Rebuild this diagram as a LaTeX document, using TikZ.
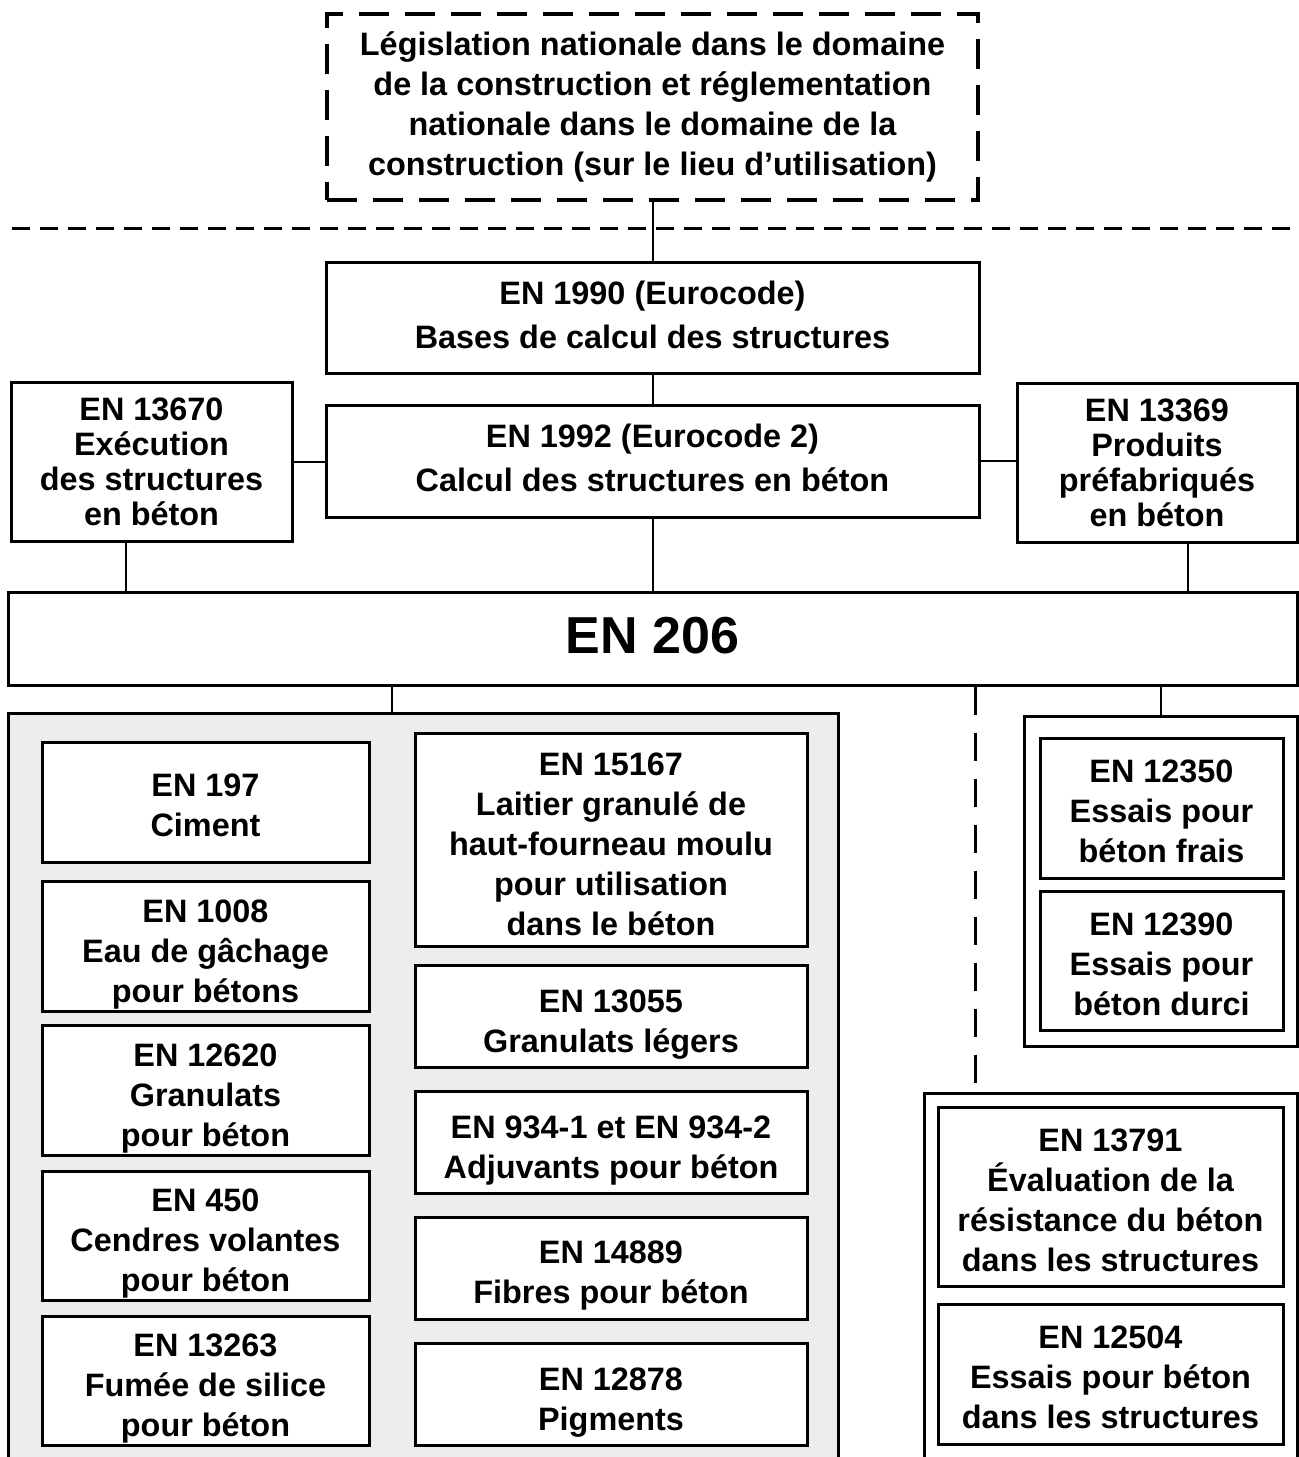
\documentclass[tikz,border=0pt]{standalone}
\usepackage{fontspec}
\setmainfont{Liberation Sans}
\newcommand\topgap[1]{\rule{0pt}{#1}}
\tikzset{
  enbox/.style={draw, line width=1.5pt, fill=white, align=center, inner sep=0pt},
  sz/.style n args={2}{minimum width=#1*0.5pt, minimum height=#2*0.5pt},
  high/.style={execute at end node={\rule[-#1]{0pt}{#1}}},
  grpbox/.style={draw, line width=1.5pt, inner sep=0pt},
  tight/.style={font=\fontsize{16.2}{17.5}\selectfont\bfseries},
  link/.style={line width=1pt},
  dlink/.style={line width=1.5pt, dash pattern=on 14pt off 9pt}}
\begin{document}
\begin{tikzpicture}[x=0.5pt, y=-0.5pt, font=\fontsize{16.2}{20}\selectfont\bfseries]
\useasboundingbox (0,0) rectangle (1299,1457);
\clip (0,0) rectangle (1299,1457);
% ---- national level
\node[enbox, sz={651}{186}, line width=2pt, dash pattern=on 15pt off 8pt] (legis) at (652.5,107)
  {Législation nationale dans le domaine\\ de la construction et réglementation\\ nationale dans le domaine de la\\ construction (sur le lieu d’utilisation)};
\draw[line width=1.5pt, dash pattern=on 9pt off 5pt] (12,228) -- (1299,228);
% ---- Eurocodes and execution / precast
\node[enbox, high=3pt, sz={653}{111}] (en1990) at (652.5,317.5) {EN 1990 (Eurocode)\\[2pt] Bases de calcul des structures};
\node[enbox, high=3pt, sz={653}{112}] (en1992) at (652.5,461) {EN 1992 (Eurocode 2)\\[2pt] Calcul des structures en béton};
\node[enbox, tight, sz={281}{159}] (en13670) at (151.5,461.5) {EN 13670\\ Exécution\\ des structures\\ en béton};
\node[enbox, tight, sz={280}{159}] (en13369) at (1157,462.5) {EN 13369\\ Produits\\ préfabriqués\\ en béton};
\node[enbox, high=3pt, sz={1289}{93}, font=\fontsize{26}{30}\selectfont\bfseries] (en206) at (652.5,638.5) {EN 206};
\draw[link] (legis.south) -- (en1990.north);
\draw[link] (en1990.south) -- (en1992.north);
\draw[link] (en13670.east) -- (en13670.east -| en1992.west);
\draw[link] (en1992.east) -- (en1992.east -| en13369.west);
\draw[link] (en1992.south) -- (en206.north);
\draw[link] (en13670.south -| 126,0) -- (en206.north -| 126,0);
\draw[link] (en13369.south -| 1188,0) -- (en206.north -| 1188,0);
% ---- constituents (grey group)
\node[grpbox, fill=black!7, sz={830}{757}] (constit) at (423,1091.5) {};
\node[enbox, sz={327}{120}] (en197) at (205.5,802) {\topgap{15pt}EN 197\\ Ciment};
\node[enbox, sz={327}{130}] (en1008) at (205.5,946) {\topgap{19.5pt}EN 1008\\ Eau de gâchage\\ pour bétons};
\node[enbox, sz={327}{130}] (en12620) at (205.5,1090) {\topgap{19.5pt}EN 12620\\ Granulats\\ pour béton};
\node[enbox, sz={327}{129}] (en450) at (205.5,1235.5) {\topgap{19pt}EN 450\\ Cendres volantes\\ pour béton};
\node[enbox, sz={327}{129}] (en13263) at (205.5,1380.5) {\topgap{19pt}EN 13263\\ Fumée de silice\\ pour béton};
\node[enbox, sz={392}{213}] (en15167) at (611,839.5) {\topgap{16.5pt}EN 15167\\ Laitier granulé de\\ haut-fourneau moulu\\ pour utilisation\\ dans le béton};
\node[enbox, sz={392}{102}] (en13055) at (611,1016) {\topgap{19.5pt}EN 13055\\ Granulats légers};
\node[enbox, sz={392}{102}] (en934) at (611,1142) {\topgap{19.5pt}EN 934-1 et EN 934-2\\ Adjuvants pour béton};
\node[enbox, sz={392}{102}] (en14889) at (611,1268) {\topgap{19pt}EN 14889\\ Fibres pour béton};
\node[enbox, sz={392}{102}] (en12878) at (611,1394) {\topgap{20pt}EN 12878\\ Pigments};
\draw[link] (en206.south -| 392,0) -- (constit.north -| 392,0);
% ---- tests on concrete
\node[grpbox, sz={273}{330}] (essais) at (1160.5,881) {};
\node[enbox, sz={243}{140}] (en12350) at (1161.5,808) {\topgap{15pt}EN 12350\\ Essais pour\\ béton frais};
\node[enbox, sz={243}{139}] (en12390) at (1161.5,960.5) {\topgap{15.5pt}EN 12390\\ Essais pour\\ béton durci};
\draw[link] (en206.south -| essais.north) -- (essais.north);
% ---- in-situ assessment
\node[grpbox, sz={373}{377}] (insitu) at (1110.5,1281.5) {};
\node[enbox, sz={345}{179}] (en13791) at (1110.5,1196.5) {\topgap{15.5pt}EN 13791\\ Évaluation de la\\ résistance du béton\\ dans les structures};
\node[enbox, sz={345}{140}] (en12504) at (1110.5,1374) {\topgap{15pt}EN 12504\\ Essais pour béton\\ dans les structures};
\draw[dlink] (en206.south -| 975,0) -- (insitu.north -| 975,0);
\end{tikzpicture}
\end{document}
